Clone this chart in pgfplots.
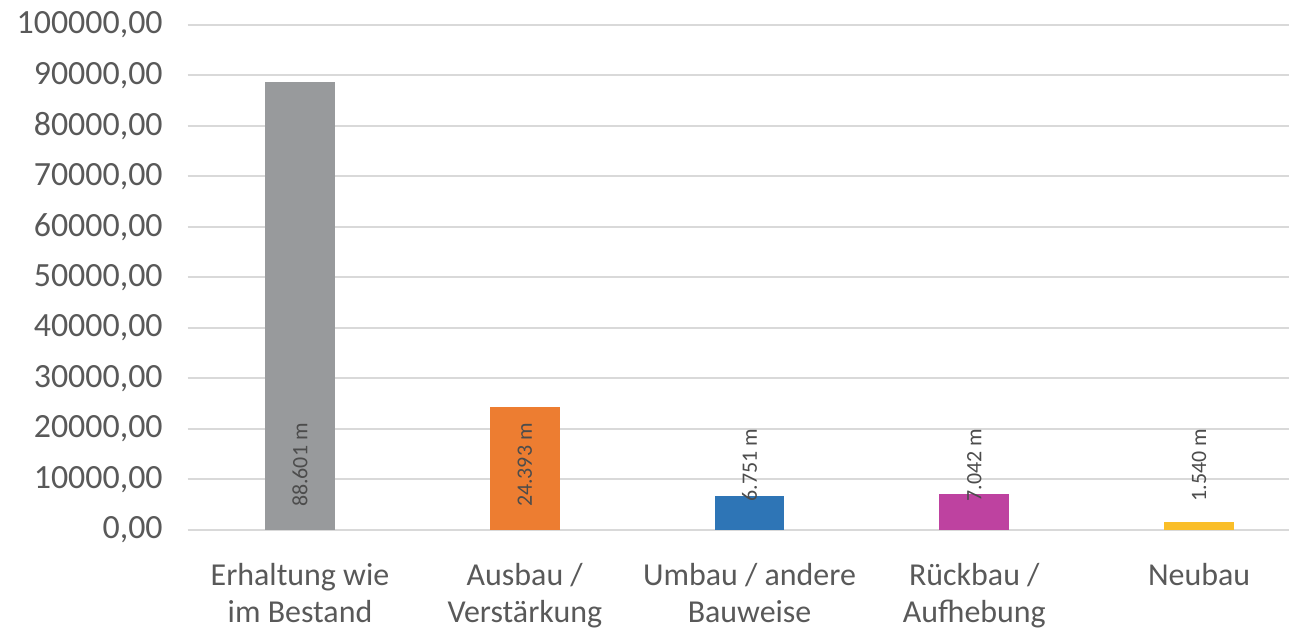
\documentclass[border=0pt]{standalone}
\usepackage{pgfplots}
\pgfplotsset{compat=1.18}
\usepackage{fontspec}
\setmainfont{Carlito}
\definecolor{txt}{RGB}{89,89,89}
\definecolor{gridc}{RGB}{217,217,217}
\definecolor{cgray}{RGB}{152,154,156}
\definecolor{corange}{RGB}{237,125,49}
\definecolor{cblue}{RGB}{46,117,182}
\definecolor{cmag}{RGB}{190,66,160}
\definecolor{cyel}{RGB}{250,190,40}
\begin{document}
\begin{tikzpicture}
\begin{axis}[
  scale only axis,
  width=552pt, height=253pt,
  xmin=-0.5, xmax=4.4,
  ymin=0, ymax=100000,
  ytick={0,10000,...,100000},
  xtick={0,1,2,3,4},
  xticklabels={{Erhaltung wie\\im Bestand},{Ausbau /\\Verstärkung},{Umbau / andere\\Bauweise},{Rückbau /\\Aufhebung},{Neubau}},
  xticklabel style={align=center, font=\fontsize{16}{18.5}\selectfont, text=txt, anchor=north, yshift=-9pt},
  yticklabel style={font=\fontsize{17}{18}\selectfont, text=txt, xshift=-9pt},
  /pgf/number format/assume math mode=true,
  yticklabel={\pgfmathprintnumber[fixed, fixed zerofill, precision=2, use comma, 1000 sep={}]{\tick}},
  scaled y ticks=false,
  axis line style={draw=none},
  tick style={draw=none},
  ymajorgrids,
  grid style={gridc, line width=1pt},
  ybar, bar width=35pt, bar shift=0pt,
  clip=false,
]
\addplot[fill=cgray, draw=none] coordinates {(0,88601)};
\addplot[fill=corange, draw=none] coordinates {(1,24393)};
\addplot[fill=cblue, draw=none] coordinates {(2,6751)};
\addplot[fill=cmag, draw=none] coordinates {(3,7042)};
\addplot[fill=cyel, draw=none] coordinates {(4,1540)};
\foreach \i/\t in {0/{88.601 m},1/{24.393 m},2/{6.751 m},3/{7.042 m},4/{1.540 m}}{
  \edef\tmp{\noexpand\node[rotate=90, font=\noexpand\fontsize{11}{12}\noexpand\selectfont, text=txt!85!black] at (axis cs:\i,12800) {\t};}
  \tmp
}
\path (rel axis cs:0,1) ++(0,12.5pt) coordinate (topm);
\end{axis}
\path (topm);
\path (current bounding box.west) ++(-5pt,0) coordinate (leftm);
\path (leftm);
\end{tikzpicture}
\end{document}
